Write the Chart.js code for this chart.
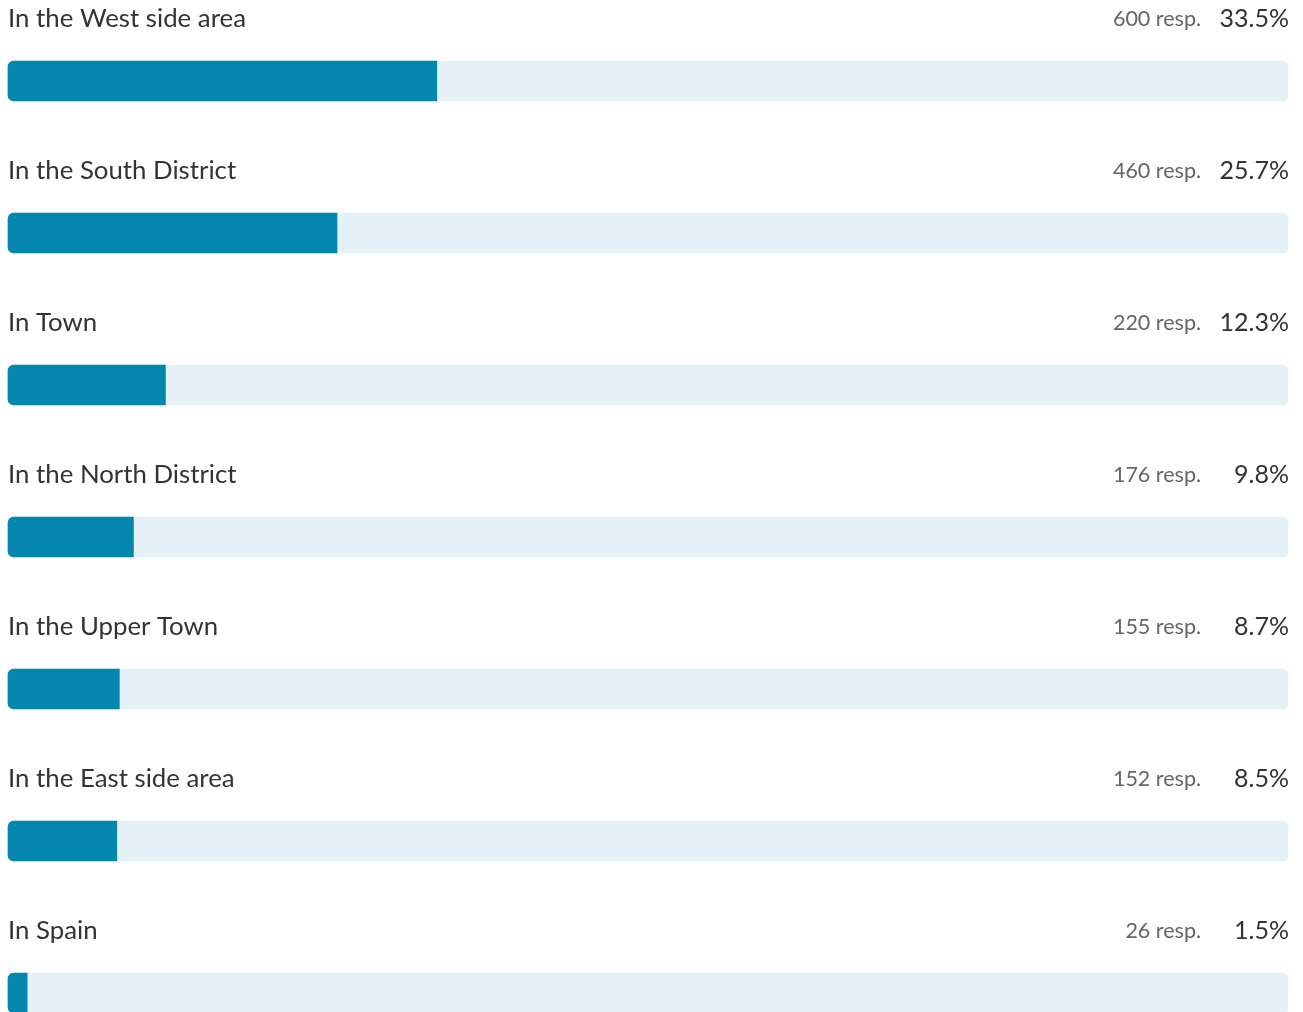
<!DOCTYPE html>
<html>
<head>
<meta charset="utf-8">
<script src="https://cdn.jsdelivr.net/npm/chart.js@4"></script>
<style>
  html, body { margin: 0; padding: 0; background: #fff; }
  #wrap { width: 1303px; height: 1012px; position: relative; }
</style>
</head>
<body>
<div id="wrap"><canvas id="resultsChart"></canvas></div>
<script>
var labels = ["In the West side area", "In the South District", "In Town", "In the North District", "In the Upper Town", "In the East side area", "In Spain"];
var responses = [600, 460, 220, 176, 155, 152, 26];
var percents = [33.5, 25.7, 12.3, 9.8, 8.7, 8.5, 1.5];
var track = [100, 100, 100, 100, 100, 100, 100];

var textPlugin = {
    id: 'rowText',
    afterDatasetsDraw: function(chart) {
        var ctx = chart.ctx;
        var yScale = chart.scales.y;
        var area = chart.chartArea;
        ctx.save();
        ctx.textBaseline = 'middle';
        for (var i = 0; i < labels.length; i++) {
            var y = yScale.getPixelForValue(i) - 62;
            ctx.fillStyle = '#333333';
            ctx.font = '25.8px Lato';
            ctx.textAlign = 'left';
            ctx.fillText(labels[i], area.left, y);
            ctx.font = '25px Lato';
            ctx.textAlign = 'right';
            ctx.fillText(percents[i].toFixed(1) + '%', area.right + 1, y);
            ctx.fillStyle = '#666666';
            ctx.font = '21.5px Lato';
            ctx.fillText(responses[i] + ' resp.', area.right - 87, y);
        }
        ctx.restore();
    }
};

var ctx = document.getElementById('resultsChart').getContext('2d');
var chart = new Chart(ctx, {
    type: 'bar',
    data: {
        labels: labels,
        datasets: [{
            label: 'Share',
            data: percents,
            backgroundColor: '#0387AF',
            borderRadius: { topLeft: 6, bottomLeft: 6, topRight: 0, bottomRight: 0 },
            borderSkipped: false,
            barThickness: 40,
            clip: false
        }, {
            label: 'Track',
            data: track,
            backgroundColor: '#E4F1F6',
            borderRadius: 6,
            borderSkipped: false,
            barThickness: 40,
            clip: false
        }]
    },
    options: {
        indexAxis: 'y',
        responsive: true,
        maintainAspectRatio: false,
        animation: false,
        grouped: false,
        layout: {
            padding: { top: 81, bottom: 19, left: 8, right: 15 }
        },
        plugins: {
            legend: { display: false },
            tooltip: { enabled: false }
        },
        scales: {
            x: {
                display: false,
                min: 0,
                max: 100
            },
            y: {
                display: false,
                offset: false,
                grid: { display: false }
            }
        }
    },
    plugins: [textPlugin]
});
</script>
</body>
</html>
